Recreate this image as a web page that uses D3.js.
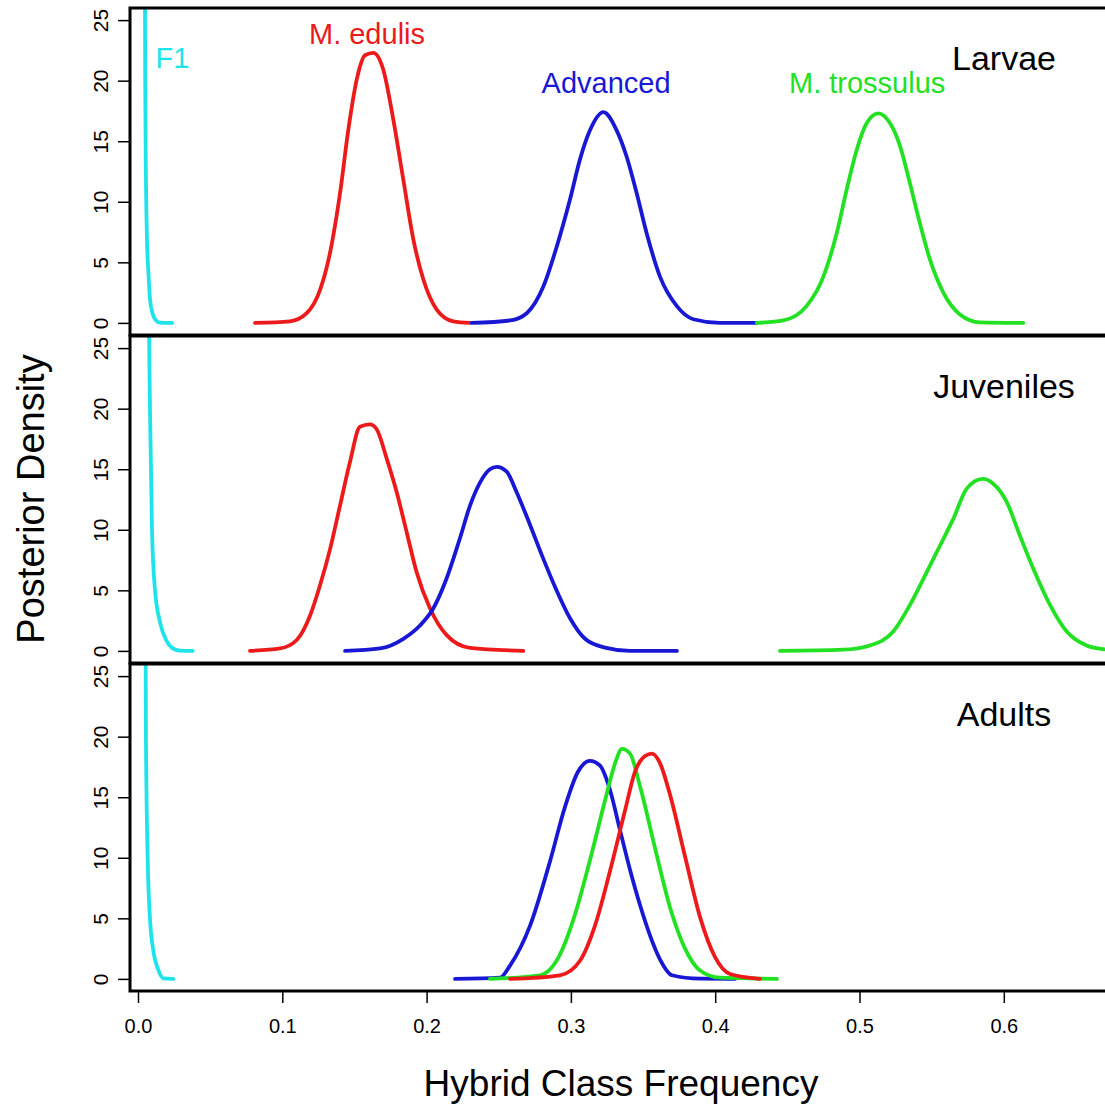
<!DOCTYPE html>
<html>
<head>
<meta charset="utf-8">
<script src="https://cdn.jsdelivr.net/npm/d3@7"></script>
<style>
  body { margin: 0; background: #fff; }
  svg { display: block; font-family: "Liberation Sans", Arial, sans-serif; }
</style>
</head>
<body>
<div id="chart"></div>
<script>
// ---- data: [hybrid class frequency, posterior density] ----
const panels = ["Larvae", "Juveniles", "Adults"];
const xTicks = [0, 0.1, 0.2, 0.3, 0.4, 0.5, 0.6];
const yTicks = [0, 5, 10, 15, 20, 25];

const larvaeF1 = [[0.0048, 28], [0.005, 20], [0.0055, 12], [0.0062, 7], [0.0073, 4], [0.0083, 2],
  [0.010, 0.8], [0.0125, 0.2], [0.015, 0.03], [0.0236, 0]];
const larvaeEdulis = [[0.0811, 0], [0.1053, 0.13], [0.1169, 0.8], [0.1261, 2.7], [0.1331, 5.8],
  [0.1400, 10.7], [0.1457, 15.9], [0.1516, 20.1], [0.1573, 22.1], [0.1631, 22.3], [0.1700, 20.9],
  [0.1769, 16.8], [0.1839, 11.8], [0.1908, 6.9], [0.1977, 3.6], [0.2070, 1.1], [0.2185, 0.13], [0.2301, 0]];
const larvaeAdvanced = [[0.2313, 0], [0.2578, 0.2], [0.2694, 0.8], [0.2809, 3.0], [0.2902, 6.3],
  [0.2994, 10.2], [0.3063, 13.5], [0.3132, 15.9], [0.3225, 17.4], [0.3317, 15.9], [0.3387, 13.7],
  [0.3456, 10.7], [0.3525, 7.4], [0.3618, 3.8], [0.3733, 1.4], [0.3848, 0.3], [0.4033, 0], [0.4288, 0]];
const larvaeTrossulus = [[0.4288, 0], [0.4472, 0.2], [0.4634, 1.4], [0.4749, 3.8], [0.4842, 7.4],
  [0.4911, 11.0], [0.4981, 14.3], [0.5050, 16.5], [0.5130, 17.3], [0.5211, 16.5], [0.5281, 14.6],
  [0.5350, 11.5], [0.5419, 8.2], [0.5489, 5.2], [0.5581, 2.5], [0.5696, 0.7], [0.5835, 0.05], [0.6135, 0]];

const juvF1 = [[0.0076, 27], [0.0083, 20], [0.0097, 10], [0.0118, 5], [0.0152, 2.4], [0.0199, 0.8],
  [0.0236, 0.25], [0.0291, 0.02], [0.0379, 0]];
const juvEdulis = [[0.0776, 0], [0.0984, 0.2], [0.1100, 0.9], [0.1192, 2.9], [0.1261, 5.4],
  [0.1331, 8.4], [0.1400, 12.0], [0.1469, 15.6], [0.1538, 18.5], [0.1608, 18.7], [0.1654, 18.3],
  [0.1723, 15.9], [0.1793, 13.1], [0.1862, 9.8], [0.1931, 6.5], [0.2024, 3.5], [0.2139, 1.3],
  [0.2301, 0.25], [0.2670, 0]];
const juvAdvanced = [[0.1435, 0], [0.1677, 0.2], [0.1839, 1.0], [0.1954, 2.1], [0.2046, 3.5],
  [0.2139, 6.0], [0.2231, 9.3], [0.2301, 12.0], [0.2370, 13.9], [0.2439, 15.0], [0.2486, 15.2],
  [0.2555, 14.8], [0.2624, 13.1], [0.2717, 10.4], [0.2809, 7.6], [0.2897, 5.1], [0.2994, 2.7],
  [0.3098, 1.0], [0.3236, 0.27], [0.3410, 0], [0.3735, 0]];
const juvTrossulus = [[0.4449, 0], [0.4888, 0.1], [0.5073, 0.45], [0.5234, 1.6], [0.5350, 3.8],
  [0.5466, 6.5], [0.5558, 8.7], [0.5650, 10.9], [0.5743, 13.4], [0.5854, 14.2], [0.5927, 13.8],
  [0.6020, 12.3], [0.6112, 9.5], [0.6204, 6.8], [0.6320, 3.8], [0.6436, 1.6], [0.6574, 0.45],
  [0.6701, 0.13], [0.6875, 0]];

const adultF1 = [[0.0053, 27], [0.0055, 20], [0.0067, 10], [0.0083, 5], [0.0104, 2.5], [0.0139, 0.8],
  [0.0175, 0.05], [0.0245, 0]];
const adultEdulis = [[0.2578, 0], [0.2924, 0.3], [0.3063, 1.5], [0.3167, 4.4], [0.3271, 8.9],
  [0.3375, 13.9], [0.3444, 17.1], [0.3514, 18.4], [0.3562, 18.6], [0.3618, 17.8], [0.3687, 15.2],
  [0.3791, 10.1], [0.3895, 5.1], [0.3999, 1.8], [0.4103, 0.4], [0.4310, 0]];
const adultAdvanced = [[0.2197, 0], [0.2509, 0.1], [0.2578, 1.1], [0.2717, 4.4], [0.2855, 9.7],
  [0.2959, 14.2], [0.3049, 17.1], [0.3132, 18.0], [0.3202, 17.6], [0.3271, 15.6], [0.3340, 12.3],
  [0.3410, 9.0], [0.3479, 6.1], [0.3548, 3.6], [0.3618, 1.6], [0.3701, 0.3], [0.3895, 0.02], [0.4137, 0]];
const adultTrossulus = [[0.2439, 0], [0.2786, 0.3], [0.2924, 2.0], [0.3028, 5.3], [0.3132, 9.8],
  [0.3236, 14.7], [0.3306, 17.8], [0.3354, 19.0], [0.3410, 18.6], [0.3479, 15.9], [0.3583, 10.8],
  [0.3687, 5.9], [0.3791, 2.5], [0.3895, 0.7], [0.4033, 0.1], [0.4428, 0]];

const colors = { f1: "#1fe3ea", edulis: "#ec1a1a", advanced: "#1818d4", trossulus: "#22e022" };

const series = [
  [{ data: larvaeF1, c: colors.f1 }, { data: larvaeEdulis, c: colors.edulis },
   { data: larvaeAdvanced, c: colors.advanced }, { data: larvaeTrossulus, c: colors.trossulus }],
  [{ data: juvF1, c: colors.f1 }, { data: juvEdulis, c: colors.edulis },
   { data: juvAdvanced, c: colors.advanced }, { data: juvTrossulus, c: colors.trossulus }],
  [{ data: adultF1, c: colors.f1 }, { data: adultAdvanced, c: colors.advanced },
   { data: adultTrossulus, c: colors.trossulus }, { data: adultEdulis, c: colors.edulis }]
];

// class labels in the top panel: [text, x value, density, colour]
const classLabels = [
  ["F1", 0.0239, 21.05, colors.f1],
  ["M. edulis", 0.1587, 23.0, colors.edulis],
  ["Advanced", 0.3244, 19.0, colors.advanced],
  ["M. trossulus", 0.5053, 19.0, colors.trossulus]
];

// ---- layout ----
const width = 1105, height = 1109;
const boxLeft = 130, boxRight = 1112;
const panelTops = [8, 336, 664];
const panelH = 327;

const svg = d3.select("#chart").append("svg")
  .attr("width", width)
  .attr("height", height)
  .attr("viewBox", [0, 0, width, height]);

const x = d3.scaleLinear()
  .domain([0, 0.6])
  .range([138, 138 + 0.6 * 1443]);

const line = d3.line()
  .x(d => x(d[0]))
  .curve(d3.curveMonotoneX);

panels.forEach((name, i) => {
  const top = panelTops[i];
  const y = d3.scaleLinear().domain([-1, 26]).range([top + panelH, top]);
  const g = svg.append("g");

  g.append("clipPath")
    .attr("id", "clip" + i)
    .append("rect")
    .attr("x", boxLeft).attr("y", top)
    .attr("width", boxRight - boxLeft).attr("height", panelH);

  g.append("g")
    .attr("clip-path", `url(#clip${i})`)
    .selectAll("path")
    .data(series[i])
    .join("path")
      .attr("d", s => line.y(d => y(d[1]))(s.data))
      .attr("fill", "none")
      .attr("stroke", s => s.c)
      .attr("stroke-width", 3.8)
      .attr("stroke-linejoin", "round")
      .attr("stroke-linecap", "round");

  // y axis, R style: labels turned along the axis
  g.append("g")
    .attr("transform", `translate(${boxLeft},0)`)
    .call(d3.axisLeft(y).tickValues(yTicks).tickSize(12).tickSizeOuter(0).tickPadding(0))
    .call(a => a.select(".domain").remove())
    .call(a => a.selectAll("line").attr("stroke", "#000").attr("stroke-width", 1.5))
    .call(a => a.selectAll("text")
      .attr("x", null).attr("dy", null)
      .attr("text-anchor", "middle")
      .attr("font-size", 21)
      .attr("fill", "#000")
      .attr("transform", "translate(-22,0) rotate(-90)"));

  g.append("rect")
    .attr("x", boxLeft).attr("y", top)
    .attr("width", boxRight - boxLeft).attr("height", panelH)
    .attr("fill", "none")
    .attr("stroke", "#000")
    .attr("stroke-width", 3);

  g.append("text")
    .attr("x", 1004).attr("y", top + 62)
    .attr("text-anchor", "middle")
    .attr("font-size", 34)
    .attr("fill", "#000")
    .text(name);

  if (i === 0) {
    g.selectAll("text.cls")
      .data(classLabels)
      .join("text")
        .attr("class", "cls")
        .attr("x", d => x(d[1]))
        .attr("y", d => y(d[2]))
        .attr("text-anchor", "middle")
        .attr("font-size", 29)
        .attr("fill", d => d[3])
        .text(d => d[0]);
  }
});

// x axis under the bottom panel
const bottom = panelTops[2] + panelH;
svg.append("g")
  .attr("transform", `translate(0,${bottom})`)
  .call(d3.axisBottom(x).tickValues(xTicks).tickFormat(d3.format(".1f")).tickSize(12).tickPadding(16))
  .call(a => a.select(".domain").remove())
  .call(a => a.selectAll("line").attr("stroke", "#000").attr("stroke-width", 1.5))
  .call(a => a.selectAll("text").attr("font-size", 20).attr("fill", "#000"));

svg.append("text")
  .attr("x", 621).attr("y", 1096)
  .attr("text-anchor", "middle")
  .attr("font-size", 37)
  .text("Hybrid Class Frequency");

svg.append("text")
  .attr("transform", "translate(44,499) rotate(-90)")
  .attr("text-anchor", "middle")
  .attr("font-size", 38)
  .text("Posterior Density");
</script>
</body>
</html>
